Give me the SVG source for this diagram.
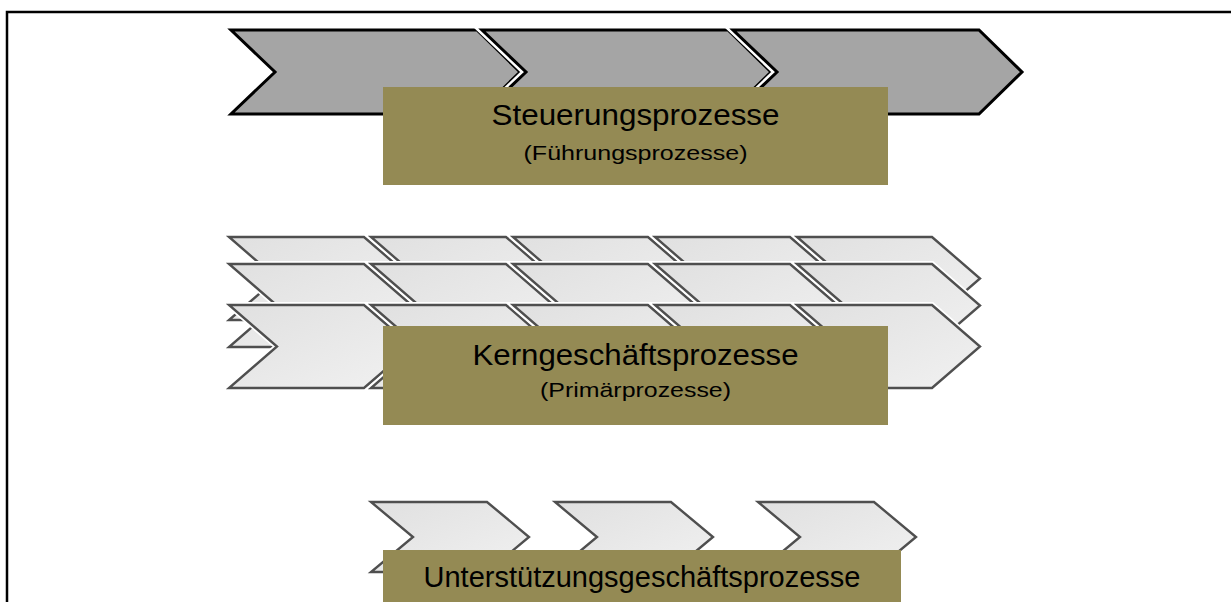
<svg xmlns="http://www.w3.org/2000/svg" xmlns:xlink="http://www.w3.org/1999/xlink" width="1231" height="602" viewBox="0 0 1231 602">
  <style>
    .frame { fill: none; stroke: #000; stroke-width: 2.5; }
    .halo { fill: none; stroke: #fff; stroke-linejoin: miter; }
    .dark { fill: #a5a5a5; stroke: #000; stroke-width: 3; stroke-linejoin: miter; }
    .light { fill: url(#lightFill); stroke: #4f4f4f; stroke-width: 2.4; stroke-linejoin: miter; }
    .box { fill: #948a54; }
    .title { font-family: "Liberation Sans", Arial, sans-serif; font-size: 29px; fill: #000; text-anchor: middle; }
    .sub { font-family: "Liberation Sans", Arial, sans-serif; font-size: 21px; fill: #000; text-anchor: middle; }
  </style>
  <defs>
    <linearGradient id="lightFill" x1="0" y1="0" x2="1" y2="1">
      <stop offset="0" stop-color="#e0e0e0"/>
      <stop offset="1" stop-color="#f1f1f1"/>
    </linearGradient>
    <!-- large dark chevron (control processes) -->
    <g id="chevTop">
      <path class="halo" stroke-width="8" d="M0,0 H246 L289,42 L246,84 H0 L44,42 Z"/>
      <path class="dark" d="M0,0 H246 L289,42 L246,84 H0 L44,42 Z"/>
    </g>
    <!-- light chevron (core processes) -->
    <g id="chevMid">
      <path class="halo" stroke-width="6" d="M0,0 H135 L183,41.5 L135,83 H0 L48,41.5 Z"/>
      <path class="light" d="M0,0 H135 L183,41.5 L135,83 H0 L48,41.5 Z"/>
    </g>
    <!-- small light chevron (support processes) -->
    <g id="chevLow">
      <path class="halo" stroke-width="6" d="M0,0 H116 L158,35 L116,70 H0 L42,35 Z"/>
      <path class="light" d="M0,0 H116 L158,35 L116,70 H0 L42,35 Z"/>
    </g>
  </defs>

  <!-- outer frame (left and top edges) -->
  <path class="frame" d="M7,602 V12 H1231"/>

  <!-- control process layer -->
  <g id="steuerung">
    <use xlink:href="#chevTop" x="231" y="30"/>
    <use xlink:href="#chevTop" x="482" y="30"/>
    <use xlink:href="#chevTop" x="733" y="30"/>
    <rect class="box" x="383" y="87" width="505" height="98"/>
    <text class="title" x="635.5" y="125" textLength="288" lengthAdjust="spacingAndGlyphs">Steuerungsprozesse</text>
    <text class="sub" x="635.5" y="160" textLength="224" lengthAdjust="spacingAndGlyphs">(Führungsprozesse)</text>
  </g>

  <!-- core process layer: three rows of five chevrons -->
  <g id="kern">
    <g id="kern-row1">
      <use xlink:href="#chevMid" x="229" y="237"/>
      <use xlink:href="#chevMid" x="371" y="237"/>
      <use xlink:href="#chevMid" x="513" y="237"/>
      <use xlink:href="#chevMid" x="655" y="237"/>
      <use xlink:href="#chevMid" x="797" y="237"/>
    </g>
    <g id="kern-row2">
      <use xlink:href="#chevMid" x="229" y="264"/>
      <use xlink:href="#chevMid" x="371" y="264"/>
      <use xlink:href="#chevMid" x="513" y="264"/>
      <use xlink:href="#chevMid" x="655" y="264"/>
      <use xlink:href="#chevMid" x="797" y="264"/>
    </g>
    <g id="kern-row3">
      <use xlink:href="#chevMid" x="229" y="305"/>
      <use xlink:href="#chevMid" x="371" y="305"/>
      <use xlink:href="#chevMid" x="513" y="305"/>
      <use xlink:href="#chevMid" x="655" y="305"/>
      <use xlink:href="#chevMid" x="797" y="305"/>
    </g>
    <rect class="box" x="383" y="326" width="505" height="99"/>
    <text class="title" x="635.5" y="365" textLength="326" lengthAdjust="spacingAndGlyphs">Kerngeschäftsprozesse</text>
    <text class="sub" x="635.5" y="397" textLength="191" lengthAdjust="spacingAndGlyphs">(Primärprozesse)</text>
  </g>

  <!-- support process layer -->
  <g id="unterstuetzung">
    <use xlink:href="#chevLow" x="371" y="502"/>
    <use xlink:href="#chevLow" x="555" y="502"/>
    <use xlink:href="#chevLow" x="758" y="502"/>
    <rect class="box" x="383" y="550" width="518" height="52"/>
    <text class="title" x="642" y="587" textLength="437" lengthAdjust="spacingAndGlyphs">Unterstützungsgeschäftsprozesse</text>
  </g>
</svg>
